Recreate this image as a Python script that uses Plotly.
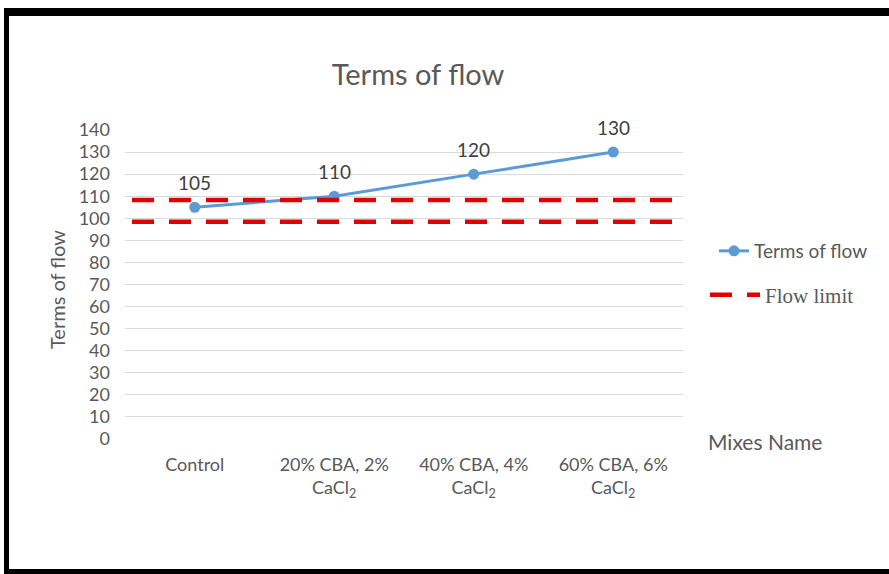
import plotly.graph_objects as go

categories = ["Control", "20% CBA, 2%<br>CaCl<sub>2</sub>", "40% CBA, 4%<br>CaCl<sub>2</sub>", "60% CBA, 6%<br>CaCl<sub>2</sub>"]
flow_values = [105, 110, 120, 130]
flow_limits = [108.3, 98.4]
y_ticks = list(range(0, 141, 10))

W, H = 889, 574
L, R, T, B = 125, 683, 130, 439  # plot area in px


def px_x(p):
    return (p - L) / (R - L)


def px_y(p):
    return (B - p) / (B - T)


GRAY = "#595959"
FONT = "Lato"

fig = go.Figure()
fig.add_trace(go.Scatter(
    x=categories, y=flow_values, mode="lines+markers", name="Terms of flow",
    line=dict(color="#5B9BD5", width=3), marker=dict(color="#5B9BD5", size=11),
    legend="legend",
))

for v, c in zip(flow_values, categories):
    fig.add_annotation(x=c, y=v, text=str(v), showarrow=False, yshift=25,
                       font=dict(family=FONT, size=19, color="#404040"))

shapes = []
for i, lim in enumerate(flow_limits):
    shapes.append(dict(
        type="line", xref="paper", yref="y", x0=px_x(132), x1=px_x(685), y0=lim, y1=lim,
        line=dict(color="#E00000", width=4.5, dash="22px,15px"),
        name="Flow limit",
        showlegend=(i == 0), legend="legend2",
    ))

# black frame
def rect(x0, x1, y0, y1):
    return dict(type="rect", xref="paper", yref="paper",
                x0=px_x(x0), x1=px_x(x1), y0=px_y(y0), y1=px_y(y1),
                fillcolor="black", line=dict(width=0), layer="above")

shapes += [rect(4, 900, 8, 16), rect(4, 9, 8, 590), rect(4, 900, 569, 590)]

fig.update_layout(
    width=W, height=H,
    margin=dict(l=L, r=W - R, t=T, b=H - B, autoexpand=False),
    paper_bgcolor="white", plot_bgcolor="white",
    font=dict(family=FONT, color=GRAY),
    title=dict(text="Terms of flow", x=px_x(418), xanchor="center", xref="paper",
               y=1 - 75 / H, yanchor="middle", yref="container",
               font=dict(family=FONT, size=29, color=GRAY)),
    shapes=shapes,
    legend=dict(x=px_x(714), y=px_y(251), xanchor="left", yanchor="middle",
                font=dict(family=FONT, size=19, color=GRAY), bgcolor="rgba(0,0,0,0)"),
    legend2=dict(x=px_x(705), y=px_y(295), xanchor="left", yanchor="middle", itemwidth=50,
                 font=dict(family="Liberation Serif", size=21, color=GRAY), bgcolor="rgba(0,0,0,0)"),
    xaxis=dict(type="category", range=[-0.5, 3.5], showgrid=False, zeroline=False,
               showline=False, ticks="", ticklabelstandoff=13,
               tickfont=dict(family=FONT, size=18, color=GRAY)),
    yaxis=dict(range=[0, 140], tickvals=y_ticks, showgrid=True, gridcolor="#D9D9D9",
               gridwidth=1, zeroline=False, showline=False, ticks="",
               ticklabelstandoff=14,
               tickfont=dict(family=FONT, size=18, color=GRAY)),
    showlegend=True,
)

fig.add_annotation(xref="paper", yref="paper", x=px_x(57), y=px_y(290), text="Terms of flow",
                   xanchor="center", yanchor="middle",
                   textangle=-90, showarrow=False, font=dict(family=FONT, size=20, color=GRAY))
fig.add_annotation(xref="paper", yref="paper", x=px_x(765), y=px_y(441), text="Mixes Name",
                   xanchor="center", yanchor="middle",
                   showarrow=False, font=dict(family=FONT, size=21, color=GRAY))

fig.write_html("out.html", config={"displayModeBar": False},
               post_script="document.body.style.margin='0px';")
